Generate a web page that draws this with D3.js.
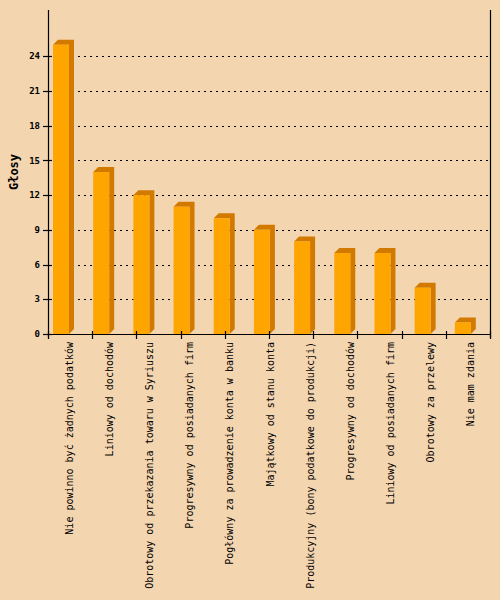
<!DOCTYPE html>
<html>
<head>
<meta charset="utf-8">
<script src="https://cdn.jsdelivr.net/npm/d3@7"></script>
<style>
  body { margin: 0; background: #F3D5B0; }
  svg { display: block; }
</style>
</head>
<body>
<svg id="chart"></svg>
<script>
// poll answers
var categories = [
  "Nie powinno być żadnych podatków",
  "Liniowy od dochodów",
  "Obrotowy od przekazania towaru w Syriuszu",
  "Progresywny od posiadanych firm",
  "Pogłówny za prowadzenie konta w banku",
  "Majątkowy od stanu konta",
  "Produkcyjny (bony podatkowe do produkcji)",
  "Progresywny od dochodów",
  "Liniowy od posiadanych firm",
  "Obrotowy za przelewy",
  "Nie mam zdania"
]
var votes = [25, 14, 12, 11, 10, 9, 8, 7, 7, 4, 1]
var yTicks = [0, 3, 6, 9, 12, 15, 18, 21, 24]

var dimensions = {
  width: 500,
  height: 600,
  margin: { top: 10, bottom: 266, right: 10, left: 48 }
}

var svg = d3.select("#chart")
  .attr("width", dimensions.width)
  .attr("height", dimensions.height)

svg.append("rect")
  .attr("width", dimensions.width)
  .attr("height", dimensions.height)
  .attr("fill", "#F3D5B0")

var x0 = dimensions.margin.left
var x1 = dimensions.width - dimensions.margin.right
var y0 = dimensions.height - dimensions.margin.bottom

var x = d3.scaleBand()
  .domain(categories)
  .range([x0, x1])

// the tick marks on the x axis don't line up with the bars in the original
var xTick = d3.scaleLinear()
  .domain([0, categories.length - 1])
  .range([x0, x1])

var y = d3.scaleLinear()
  .domain([0, 28])
  .range([y0, dimensions.margin.top])

// dotted grid
svg.append("g")
  .selectAll("line")
  .data(yTicks.slice(1))
  .enter().append("line")
    .attr("x1", x0)
    .attr("x2", x1)
    .attr("y1", function(d) { return Math.round(y(d)) + 0.5 })
    .attr("y2", function(d) { return Math.round(y(d)) + 0.5 })
    .attr("stroke", "black")
    .attr("stroke-dasharray", "2,4")

// 3d bars
var depth = 5
var barW = 16
var offset = 5

var bars = svg.append("g")
  .selectAll("g")
  .data(categories)
  .enter().append("g")
    .attr("transform", function(d) { return "translate(" + (x(d) + offset) + ",0)" })

bars.append("path")
  .attr("fill", "#D27A00")
  .attr("d", function(d, i) {
    var top = y(votes[i])
    return "M0," + top + "L" + depth + "," + (top - depth) +
      "L" + (barW + depth) + "," + (top - depth) +
      "L" + (barW + depth) + "," + (y0 - depth) +
      "L" + barW + "," + y0 + "L" + barW + "," + top + "Z"
  })

bars.append("rect")
  .attr("x", 0)
  .attr("y", function(d, i) { return y(votes[i]) })
  .attr("width", barW)
  .attr("height", function(d, i) { return y0 - y(votes[i]) })
  .attr("fill", "#FFA500")

// axes
var axes = svg.append("g").attr("stroke", "black").attr("stroke-width", 1.2)

axes.append("line")
  .attr("x1", x0 + 0.5).attr("x2", x0 + 0.5)
  .attr("y1", dimensions.margin.top).attr("y2", y0 + 4)

axes.append("line")
  .attr("x1", x1 + 0.5).attr("x2", x1 + 0.5)
  .attr("y1", dimensions.margin.top).attr("y2", y0 + 4)

axes.append("line")
  .attr("x1", x0).attr("x2", x1)
  .attr("y1", y0 + 0.5).attr("y2", y0 + 0.5)

axes.selectAll(".ytick")
  .data(yTicks)
  .enter().append("line")
    .attr("x1", x0 - 5).attr("x2", x0 + 4)
    .attr("y1", function(d) { return Math.round(y(d)) + 0.5 })
    .attr("y2", function(d) { return Math.round(y(d)) + 0.5 })

axes.selectAll(".xtick")
  .data(d3.range(categories.length))
  .enter().append("line")
    .attr("x1", function(d) { return Math.round(xTick(d)) + 0.5 })
    .attr("x2", function(d) { return Math.round(xTick(d)) + 0.5 })
    .attr("y1", y0 - 3).attr("y2", y0 + 5)

svg.append("g")
  .selectAll("text")
  .data(yTicks)
  .enter().append("text")
    .text(function(d) { return d })
    .attr("x", x0 - 8)
    .attr("y", function(d) { return y(d) })
    .attr("dy", "0.35em")
    .attr("text-anchor", "end")
    .style("font-family", "DejaVu Sans Mono")
    .style("font-size", "9px")
    .style("font-weight", "bold")

svg.append("g")
  .selectAll("text")
  .data(categories)
  .enter().append("text")
    .text(function(d) { return d })
    .attr("text-anchor", "end")
    .attr("dy", "0.35em")
    .attr("transform", function(d) {
      return "translate(" + (x(d) + x.bandwidth() / 2 + 1) + "," + (y0 + 8) + ") rotate(-90)"
    })
    .style("font-family", "DejaVu Sans Mono")
    .style("font-size", "10px")

svg.append("text")
  .text("Głosy")
  .attr("text-anchor", "middle")
  .attr("transform", "translate(18," + ((dimensions.margin.top + y0) / 2) + ") rotate(-90)")
  .style("font-family", "DejaVu Sans Mono")
  .style("font-size", "12px")
  .style("font-weight", "bold")
</script>
</body>
</html>
